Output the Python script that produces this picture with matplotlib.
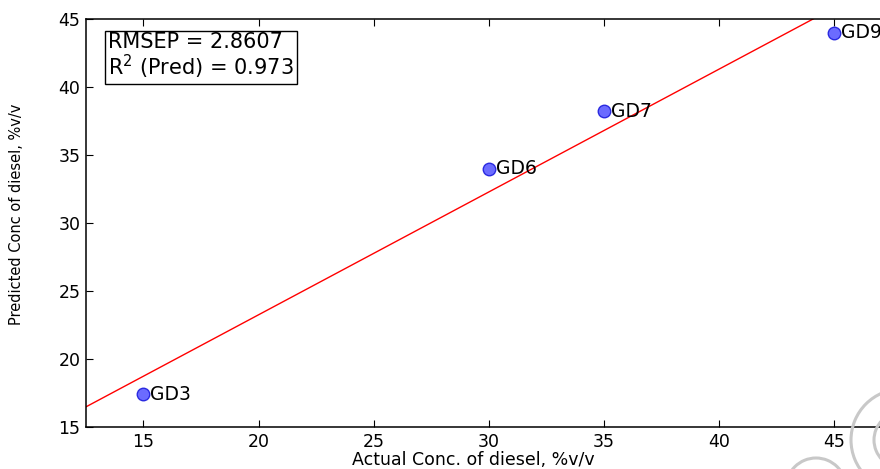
import numpy as np
import matplotlib
matplotlib.use("Agg")
import matplotlib.pyplot as plt
from matplotlib.patches import Arc
from matplotlib.transforms import IdentityTransform

plt.rcParams['font.family'] = ['DejaVu Sans']

# validation samples: actual vs predicted diesel concentration
samples = ["GD3", "GD6", "GD7", "GD9"]
actual = np.array([15.0, 30.0, 35.0, 45.0])
predicted = np.array([17.4, 34.0, 38.2, 44.0])
rmsep = 2.8607
r2_pred = 0.973

xticks = [15, 20, 25, 30, 35, 40, 45]
yticks = [15, 20, 25, 30, 35, 40, 45]

fig = plt.figure(figsize=(8.8, 4.69), dpi=100)
# axes runs a little past the right edge of the figure
ax = fig.add_axes([0.0977, 0.0896, 0.915, 0.8699])

# least squares line through the predictions
slope, intercept = np.polyfit(actual, predicted, 1)
xx = np.array([12.5, 47.5])
ax.plot(xx, slope * xx + intercept, color='red', lw=1.0, zorder=2)

ax.plot(actual, predicted, 'o', ms=9, mfc='#6b6bff', mec='#2a2ae0', mew=1.0, zorder=3)
for name, x, y in zip(samples, actual, predicted):
    ax.annotate(name, (x, y), xytext=(5, 0), textcoords='offset points',
                ha='left', va='center', fontsize=13.5, zorder=4)

ax.text(0.027, 0.967, "RMSEP = %.4f\nR$^2$ (Pred) = %.3f" % (rmsep, r2_pred),
        transform=ax.transAxes, ha='left', va='top', fontsize=15, linespacing=1.0,
        bbox=dict(boxstyle='square,pad=0.15', fc='white', ec='black', lw=1.0))

ax.set_xlim(12.5, 47.5)
ax.set_ylim(15, 45)
ax.set_xticks(xticks)
ax.set_yticks(yticks)
ax.tick_params(direction='in', length=5, width=0.8, labelsize=12.5, top=True, right=True, pad=4)
for s in ax.spines.values():
    s.set_linewidth(1.1)

ax.set_xlabel("Actual Conc. of diesel, %v/v", fontsize=12.5)
ax.xaxis.set_label_coords(0.481, -0.058)
ax.set_ylabel("Predicted Conc of diesel, %v/v", fontsize=10.5)
ax.yaxis.set_label_coords(-0.077, 0.522)

# faint grey arcs in the lower right corner (pixel coordinates)
for cx, cy, r in [(902, 29, 51), (902, 29, 28), (816, -19, 30)]:
    fig.add_artist(Arc((cx, cy), 2 * r, 2 * r, transform=IdentityTransform(),
                       color='#c8c8c8', lw=2.2))

fig.savefig("out.png", dpi=100)
